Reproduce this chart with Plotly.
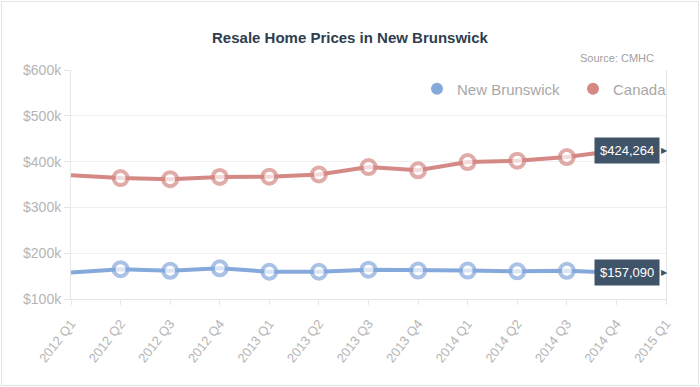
import plotly.graph_objects as go

quarters = ["2012 Q1", "2012 Q2", "2012 Q3", "2012 Q4",
            "2013 Q1", "2013 Q2", "2013 Q3", "2013 Q4",
            "2014 Q1", "2014 Q2", "2014 Q3", "2014 Q4", "2015 Q1"]
new_brunswick = [158000, 165000, 161500, 167000, 159500, 159500, 164000,
                 162000, 162000, 160500, 161500, 157090]
canada = [370000, 364000, 361500, 366500, 367000, 372000, 388000,
          381000, 399000, 402000, 410000, 424264]
y_ticks = [100000, 200000, 300000, 400000, 500000, 600000]
y_labels = ["$100k", "$200k", "$300k", "$400k", "$500k", "$600k"]

NB_COLOR = "#86a9dc"
CA_COLOR = "#d48985"
LABEL_BG = "#3f5369"
FONT = "Liberation Sans, Arial, sans-serif"

W, H = 700, 387
L, R, T, B = 71, 34, 70, 88

fig = go.Figure()
idx = list(range(len(new_brunswick)))
sizes = [0] + [14] * (len(idx) - 1)

for name, vals, col in [("New Brunswick", new_brunswick, NB_COLOR),
                        ("Canada", canada, CA_COLOR)]:
    fig.add_trace(go.Scatter(
        x=idx, y=vals, mode="lines+markers", name=name, showlegend=False,
        line=dict(color=col, width=4),
        marker=dict(size=sizes, color="white", line=dict(color=col, width=4)),
        cliponaxis=False, hoverinfo="skip"))

for name, col in [("New Brunswick", NB_COLOR), ("Canada", CA_COLOR)]:
    fig.add_trace(go.Scatter(
        x=[None], y=[None], mode="markers", name=name,
        marker=dict(size=14, color=col)))

for vals in (canada, new_brunswick):
    fig.add_annotation(x=idx[-1], y=vals[-1], xref="x", yref="y",
                       text=f"${vals[-1]:,}", showarrow=False,
                       xshift=11, bgcolor=LABEL_BG, borderpad=5,
                       font=dict(family=FONT, size=13, color="white"))
    fig.add_annotation(x=idx[-1], y=vals[-1], xref="x", yref="y",
                       text="▶", showarrow=False, xshift=48,
                       font=dict(family="DejaVu Sans", size=8, color=LABEL_BG))

fig.add_annotation(x=1.0, y=1.0, xref="paper", yref="paper",
                   xanchor="right", yanchor="bottom", yshift=4, xshift=-10,
                   text="Source: CMHC", showarrow=False,
                   font=dict(family=FONT, size=11, color="#a0a0a0"))

pw = W - L - R
ph = H - T - B
fig.add_shape(type="rect", xref="paper", yref="paper",
              x0=-(L - 1.5) / pw, x1=1 + (R - 1.5) / pw,
              y0=-(B - 1.5) / ph, y1=1 + (T - 1.5) / ph,
              line=dict(color="#e4e4e4", width=1), layer="below")

fig.update_layout(
    width=W, height=H,
    margin=dict(l=L, r=R, t=T, b=B, autoexpand=False),
    paper_bgcolor="white", plot_bgcolor="white",
    title=dict(text="<b>Resale Home Prices in New Brunswick</b>",
               x=0.5, xanchor="center", y=1 - 38 / H, yanchor="middle",
               font=dict(family=FONT, size=15, color="#2f3e4e")),
    legend=dict(orientation="h", x=(436 - 19 - L) / pw, xanchor="left",
                y=0.917, yanchor="middle", bgcolor="rgba(0,0,0,0)",
                entrywidth=111, entrywidthmode="pixels",
                font=dict(family=FONT, size=15, color="#a8a8a8"),
                itemsizing="constant"),
    xaxis=dict(range=[0, len(quarters) - 1], tickmode="array",
               tickvals=list(range(len(quarters))), ticktext=quarters,
               tickangle=-52, showgrid=False, zeroline=False, automargin=False,
               showline=True, linecolor="#e6e6e6", linewidth=1,
               ticks="outside", ticklen=5, tickcolor="#e6e6e6",
               ticklabelstandoff=6,
               tickfont=dict(family=FONT, size=13, color="#b5b5b5")),
    yaxis=dict(range=[100000, 600000], tickmode="array",
               tickvals=y_ticks, ticktext=y_labels, automargin=False,
               showgrid=True, gridcolor="#f0f0f0", zeroline=False,
               showline=True, linecolor="#e6e6e6", mirror=True,
               ticks="outside", ticklen=6, tickcolor="#e6e6e6",
               tickfont=dict(family=FONT, size=14, color="#b5b5b5")),
)

fig.write_html("out.html", config={"displayModeBar": False},
               post_script="document.body.style.margin='0';")
